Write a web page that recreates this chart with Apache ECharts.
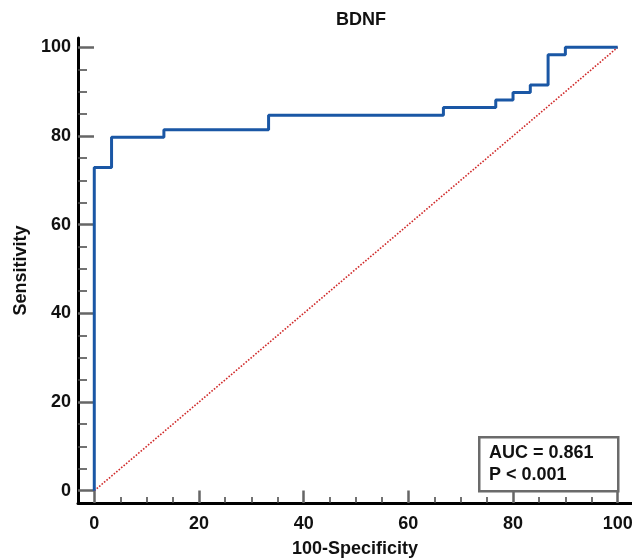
<!DOCTYPE html>
<html>
<head>
<meta charset="utf-8">
<script src="https://cdn.jsdelivr.net/npm/echarts@6/dist/echarts.min.js"></script>
<style>html,body{margin:0;padding:0;background:#fff}#c{width:632px;height:559px}</style>
</head>
<body>
<div id="c"></div>
<script>
// ROC curve corner points (100-Specificity, Sensitivity)
var fpr = [0, 0, 3.3, 13.3, 33.3, 66.7, 76.7, 80, 83.3, 86.7, 90, 100];
var tpr = [0, 72.9, 79.7, 81.4, 84.7, 86.4, 88.1, 89.8, 91.5, 98.3, 100, 100];
var majorTicks = [0, 20, 40, 60, 80, 100];
var minorTicks = [5, 10, 15, 25, 30, 35, 45, 50, 55, 65, 70, 75, 85, 90, 95];
var refLine = [[0, 0], [100, 100]];
var aucText = 'AUC = 0.861';
var pText = 'P < 0.001';

// build step path from the corner points
var rocPts = [];
for (var i = 0; i < fpr.length; i++) {
  if (i > 0) rocPts.push([fpr[i], tpr[i - 1]]);
  rocPts.push([fpr[i], tpr[i]]);
}

var FONT = 'Liberation Sans, Arial, Helvetica, sans-serif';
var chart = echarts.init(document.getElementById('c'), null, {renderer: 'canvas'});
var xr = {min: -3.11, max: 102.73};
var yr = {min: -2.77, max: 102.1};
chart.setOption({
  animation: false,
  backgroundColor: '#fff',
  title: {
    text: 'BDNF', left: 356, top: 6, textAlign: 'center',
    textStyle: {fontFamily: FONT, fontWeight: 'bold', fontSize: 18, color: '#111'}
  },
  grid: {left: 78, right: 0, top: 38, bottom: 56, containLabel: false, outerBoundsMode: 'none'},
  xAxis: [{
    type: 'value', min: xr.min, max: xr.max,
    name: '100-Specificity', nameLocation: 'middle', nameGap: 37,
    nameTextStyle: {fontFamily: FONT, fontWeight: 'bold', fontSize: 18, color: '#111'},
    axisLine: {show: true, onZero: false, lineStyle: {color: '#000', width: 3}},
    axisTick: {show: true, inside: true, length: 12.5, customValues: majorTicks, lineStyle: {color: '#666', width: 2.5}},
    axisLabel: {show: true, customValues: majorTicks, margin: 12, fontFamily: FONT, fontWeight: 'bold', fontSize: 18, color: '#111'},
    splitLine: {show: false}
  }, {
    type: 'value', min: xr.min, max: xr.max, position: 'bottom',
    axisLine: {show: false, onZero: false},
    axisTick: {show: true, inside: true, length: 6, customValues: minorTicks, lineStyle: {color: '#444', width: 1.5}},
    axisLabel: {show: false},
    splitLine: {show: false}
  }],
  yAxis: [{
    type: 'value', min: yr.min, max: yr.max,
    name: 'Sensitivity', nameLocation: 'middle', nameGap: 48,
    nameTextStyle: {fontFamily: FONT, fontWeight: 'bold', fontSize: 18, color: '#111'},
    axisLine: {show: true, onZero: false, lineStyle: {color: '#000', width: 3}},
    axisTick: {show: true, inside: true, length: 16, customValues: majorTicks, lineStyle: {color: '#666', width: 2.5}},
    axisLabel: {show: true, customValues: majorTicks, margin: 7, fontFamily: FONT, fontWeight: 'bold', fontSize: 18, color: '#111'},
    splitLine: {show: false}
  }, {
    type: 'value', min: yr.min, max: yr.max, position: 'left',
    axisLine: {show: false, onZero: false},
    axisTick: {show: true, inside: true, length: 9, customValues: minorTicks, lineStyle: {color: '#444', width: 1.5}},
    axisLabel: {show: false},
    splitLine: {show: false}
  }],
  series: [{
    type: 'line', data: refLine, symbol: 'none', silent: true,
    lineStyle: {color: '#d02a2a', width: 1.6, type: [1.6, 1.6]}
  }, {
    type: 'line', data: rocPts, symbol: 'none', silent: true,
    lineStyle: {color: '#1a57a5', width: 3}
  }],
  graphic: [{
    type: 'rect', left: 478, top: 436, z: 100,
    shape: {width: 139, height: 54},
    style: {fill: '#fff', stroke: '#6b6b6b', lineWidth: 2.5}
  }, {
    type: 'text', x: 489, y: 453, z: 101,
    style: {text: aucText, fontFamily: FONT, fontWeight: 'bold', fontSize: 18, fill: '#111', verticalAlign: 'middle'}
  }, {
    type: 'text', x: 489, y: 475, z: 101,
    style: {text: pText, fontFamily: FONT, fontWeight: 'bold', fontSize: 18, fill: '#111', verticalAlign: 'middle'}
  }]
});
</script>
</body>
</html>
